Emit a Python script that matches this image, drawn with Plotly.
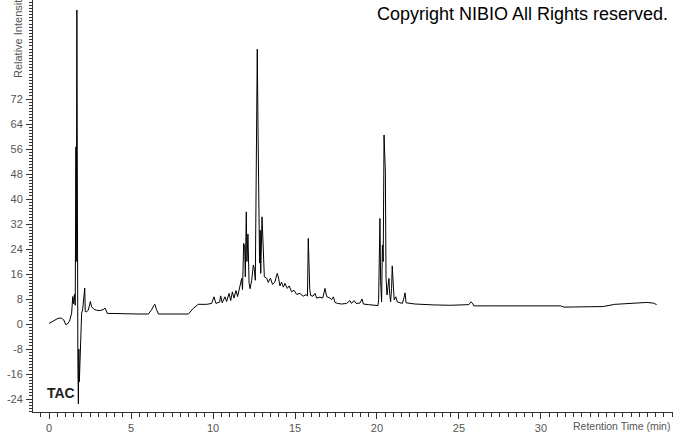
import plotly.graph_objects as go

# Retention time (min) and relative intensity
rt = [0.0, 0.3, 0.55, 0.75, 0.9, 1.02, 1.12, 1.25, 1.38, 1.45, 1.5, 1.55, 1.6,
      1.64, 1.66, 1.68, 1.7, 1.73, 1.76, 1.79, 1.82, 1.85, 1.88, 1.93, 1.99,
      2.05, 2.12, 2.18, 2.21, 2.3, 2.4, 2.52, 2.6, 2.75, 2.9, 3.1, 3.3, 3.42,
      3.55, 4.5, 5.5, 6.06, 6.25, 6.4, 6.46, 6.55, 6.67, 7.5, 8.5, 8.8, 9.1,
      9.62, 9.92, 10.06, 10.18, 10.4, 10.47, 10.56, 10.73, 10.83, 10.98, 11.08,
      11.18, 11.28, 11.4, 11.5, 11.65, 11.75, 11.8, 11.87, 11.93, 11.97, 12.03,
      12.07, 12.13, 12.2, 12.26, 12.36, 12.46, 12.52, 12.58, 12.64, 12.66,
      12.7, 12.74, 12.79, 12.84, 12.88, 12.91, 12.99, 13.05, 13.13, 13.27,
      13.37, 13.5, 13.63, 13.77, 13.92, 14.0, 14.08, 14.18, 14.29, 14.39,
      14.53, 14.65, 14.79, 14.94, 15.1, 15.3, 15.5, 15.67, 15.76, 15.81,
      15.85, 15.9, 15.96, 16.1, 16.22, 16.32, 16.52, 16.69, 16.83, 16.93,
      17.13, 17.23, 17.34, 17.44, 17.58, 17.85, 18.15, 18.35, 18.45, 18.6,
      18.72, 18.96, 19.09, 19.17, 19.48, 19.78, 20.06, 20.1, 20.14, 20.18,
      20.22, 20.28, 20.33, 20.38, 20.43, 20.47, 20.51, 20.55, 20.61, 20.67,
      20.73, 20.77, 20.83, 20.89, 20.93, 21.0, 21.05, 21.15, 21.24, 21.4,
      21.55, 21.65, 21.71, 21.77, 22.32, 23.5, 24.5, 25.6, 25.73, 25.82,
      25.9, 27.0, 29.0, 31.2, 31.4, 32.5, 33.6, 33.8, 34.5, 35.2, 36.45,
      36.85, 37.05]
intensity = [0.2, 1.0, 1.8, 1.9, 1.3, -0.2, 0.0, 0.9, 3.5, 8.8, 6.5, 9.5, 6.0,
             56.7, 20.0, 56.0, 100.5, 2.0, -12.0, -25.6, -8.0, -18.5, -12.0,
             0.0, 3.5, 4.5, 8.0, 11.5, 4.0, 3.9, 4.5, 7.2, 5.5, 4.7, 4.4, 4.3,
             4.6, 5.1, 3.4, 3.2, 3.2, 3.2, 4.5, 6.0, 6.3, 4.7, 3.2, 3.2, 3.2,
             5.0, 6.3, 6.3, 6.6, 8.7, 6.6, 7.0, 9.0, 6.8, 8.7, 7.2, 9.8, 7.5,
             10.3, 8.3, 10.7, 8.8, 11.9, 14.6, 11.0, 25.8, 25.0, 15.1, 35.9,
             20.0, 28.8, 13.0, 11.3, 14.0, 18.9, 17.5, 14.0, 71.7, 65.0, 88.0,
             65.0, 33.8, 19.5, 30.0, 16.2, 34.3, 26.0, 15.1, 14.7, 13.3, 14.7,
             12.7, 13.4, 16.2, 14.7, 12.2, 13.4, 11.8, 13.0, 11.4, 12.2, 10.3,
             10.8, 9.5, 9.8, 8.9, 9.4, 9.0, 27.4, 19.0, 11.0, 9.1, 8.9, 9.8,
             8.3, 8.6, 8.3, 11.4, 8.8, 8.3, 7.8, 8.7, 6.9, 6.6, 6.4, 6.6, 7.5,
             6.6, 7.5, 6.6, 6.7, 8.0, 6.4, 6.2, 6.0, 5.9, 7.7, 31.7, 33.8,
             14.0, 7.1, 25.3, 20.0, 60.5, 49.0, 48.7, 15.0, 9.3, 12.0, 14.6,
             9.9, 7.1, 11.4, 18.6, 12.0, 7.7, 8.7, 7.1, 6.8, 6.6, 8.5, 10.0,
             6.8, 6.4, 6.1, 6.0, 6.2, 7.1, 6.7, 5.8, 5.8, 5.8, 5.8, 5.4, 5.4,
             5.4, 5.6, 6.3, 6.6, 6.9, 6.7, 6.2]

y_tick_vals = [-24, -16, -8, 0, 8, 16, 24, 32, 40, 48, 56, 64, 72]
y_tick_text = ["-24", "-16", "-8", "0", "8", "16", "24", "32", "40", "48", "56", "64", "72"]
x_tick_vals = [0, 5, 10, 15, 20, 25, 30]
x_tick_text = ["0", "5", "10", "15", "20", "25", "30"]

LBL = "#555555"
FONT = "Liberation Sans, Arial, sans-serif"

fig = go.Figure()
fig.add_trace(go.Scatter(x=rt, y=intensity, mode="lines",
                         line=dict(color="black", width=1),
                         hoverinfo="skip", showlegend=False))

fig.update_layout(
    width=673, height=433,
    margin=dict(l=33, r=0, t=0, b=21, autoexpand=False),
    paper_bgcolor="white", plot_bgcolor="white",
    showlegend=False,
    font=dict(family=FONT, size=11, color=LBL),
    xaxis=dict(range=[-0.976, 38.05], showgrid=False, zeroline=False,
               automargin=False,
               showline=True, linecolor="#333333", linewidth=1,
               tickmode="array", tickvals=x_tick_vals, ticktext=x_tick_text,
               ticks="outside", ticklen=6, tickcolor="#333333",
               tickfont=dict(family=FONT, size=11, color=LBL),
               minor=dict(tickmode="linear", tick0=0, dtick=0.5, ticks="outside",
                          ticklen=4, tickcolor="#333333")),
    yaxis=dict(range=[-28.16, 103.7], showgrid=False, zeroline=False,
               automargin=False,
               showline=True, linecolor="#333333", linewidth=1,
               tickmode="array", tickvals=y_tick_vals, ticktext=y_tick_text,
               ticks="outside", ticklen=6, tickcolor="#333333",
               ticklabelstandoff=1,
               tickfont=dict(family=FONT, size=11, color=LBL),
               minor=dict(tickmode="linear", tick0=0, dtick=1, ticks="outside",
                          ticklen=3, tickcolor="#333333")),
    annotations=[
        dict(text="Copyright NIBIO All Rights reserved.", xref="paper", yref="paper",
             x=(375 - 33) / 640, y=(412 - 14) / 412, xanchor="left", yanchor="middle",
             showarrow=False, font=dict(family=FONT, size=18, color="black")),
        dict(text="<b>TAC</b>", xref="paper", yref="paper",
             x=(45 - 33) / 640, y=(412 - 393) / 412, xanchor="left", yanchor="middle",
             showarrow=False, font=dict(family=FONT, size=14, color="#222222")),
        dict(text="Retention Time (min)", xref="paper", yref="paper",
             x=1, y=0, xanchor="right", yanchor="middle", xshift=-1, yshift=-14,
             showarrow=False, font=dict(family=FONT, size=10.5, color=LBL)),
        dict(text="Relative Intensity", xref="paper", yref="paper",
             x=(18 - 33) / 640, y=(412 - 36) / 412, xanchor="center", yanchor="middle",
             textangle=-90, showarrow=False, font=dict(family=FONT, size=11, color=LBL)),
    ],
)

fig.write_html("out.html", config={"displayModeBar": False},
               post_script="document.body.style.margin='0';document.body.style.padding='0';")
